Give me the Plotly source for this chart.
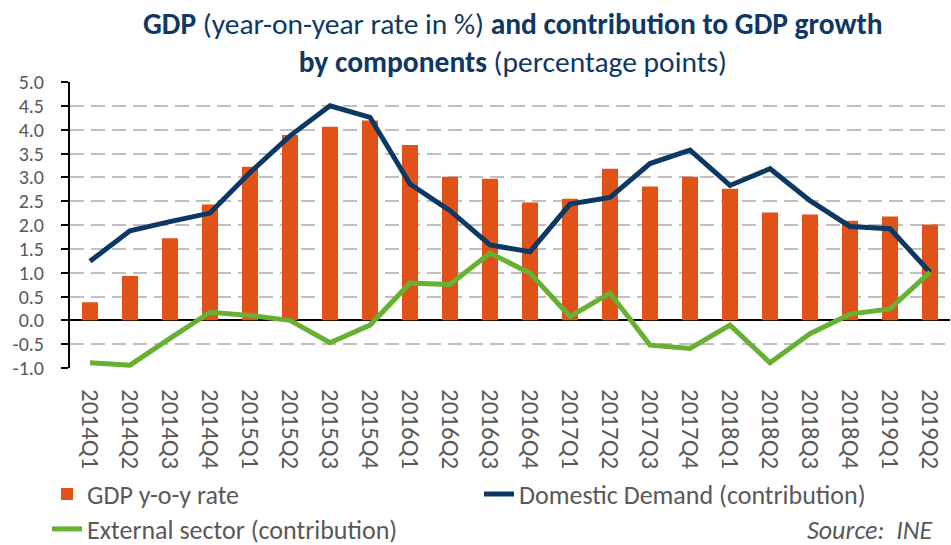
import plotly.graph_objects as go

quarters = ["2014Q1","2014Q2","2014Q3","2014Q4","2015Q1","2015Q2","2015Q3","2015Q4",
            "2016Q1","2016Q2","2016Q3","2016Q4","2017Q1","2017Q2","2017Q3","2017Q4",
            "2018Q1","2018Q2","2018Q3","2018Q4","2019Q1","2019Q2"]
gdp_yoy = [0.38,0.93,1.72,2.43,3.22,3.89,4.06,4.19,3.68,3.01,2.97,2.47,
           2.55,3.18,2.81,3.01,2.76,2.26,2.22,2.09,2.18,2.01]
domestic_demand = [1.24,1.88,2.07,2.25,3.10,3.87,4.50,4.26,2.86,2.30,1.58,1.44,
                   2.44,2.58,3.29,3.57,2.83,3.18,2.51,1.97,1.92,1.01]
external_sector = [-0.89,-0.94,-0.38,0.17,0.10,0.0,-0.47,-0.10,0.78,0.75,1.41,0.99,
                   0.08,0.57,-0.52,-0.59,-0.10,-0.89,-0.28,0.13,0.24,1.01]
y_tickvals = [-1.0,-0.5,0.0,0.5,1.0,1.5,2.0,2.5,3.0,3.5,4.0,4.5,5.0]
y_ticktext = ["-1.0","-0.5","0.0","0.5","1.0","1.5","2.0","2.5","3.0","3.5","4.0","4.5","5.0"]
boundary_ticks = list(range(len(quarters)))

FONT = "Carlito, Liberation Sans, sans-serif"
GRAY = "#595959"
NAVY = "#0C3864"
TITLE_NAVY = "#0F3864"

W, H = 951, 545
L, R, T, B = 70, 1, 82, 177
PW, PH = W - L - R, H - T - B


def px_x(x):
    return (x - L) / PW


def px_y(y):
    return (H - B - y) / PH


fig = go.Figure()
fig.add_trace(go.Bar(x=quarters, y=gdp_yoy, name="GDP y-o-y rate",
                     marker=dict(color="#E05217", line=dict(width=0)),
                     width=0.4, legend="legend"))
fig.add_trace(go.Scatter(x=quarters, y=domestic_demand, name="Domestic Demand (contribution)",
                         mode="lines", line=dict(color=NAVY, width=5), legend="legend"))
fig.add_trace(go.Scatter(x=quarters, y=external_sector, name="External sector (contribution)",
                         mode="lines", line=dict(color="#66B032", width=5), legend="legend2"))

fig.update_layout(
    width=W, height=H,
    margin=dict(l=L, r=R, t=T, b=B, autoexpand=False),
    plot_bgcolor="white", paper_bgcolor="white",
    font=dict(family=FONT, color=GRAY, size=20),
    xaxis=dict(type="category", range=[-0.5, len(quarters)-0.5], showline=False,
               showgrid=False, ticks="", tickangle=90, ticklabelstandoff=20,
               tickfont=dict(size=25, color=GRAY)),
    xaxis2=dict(overlaying="x", anchor="free", position=1/6, range=[0, len(quarters)],
                tickmode="array", tickvals=boundary_ticks, ticks="outside", ticklen=7,
                tickwidth=2, tickcolor="black", showticklabels=False, showgrid=False,
                showline=False, zeroline=False),
    yaxis=dict(range=[-1, 5], tickmode="array", tickvals=y_tickvals, ticktext=y_ticktext,
               showline=True, linecolor="black", linewidth=2, ticks="outside", ticklen=7,
               tickcolor="black", tickwidth=2, ticklabelstandoff=13,
               showgrid=True, gridcolor="#C0C0C0", gridwidth=2, griddash="14px,7px",
               zeroline=True, zerolinecolor="black", zerolinewidth=2,
               tickfont=dict(size=20, color=GRAY)),
    legend=dict(orientation="h", x=47/W, xanchor="left", y=1 - 494/H, yanchor="middle",
                xref="container", yref="container", entrywidth=387, entrywidthmode="pixels",
                font=dict(size=26, color=GRAY), bgcolor="rgba(0,0,0,0)", itemwidth=30,
                tracegroupgap=0),
    legend2=dict(orientation="h", x=47/W, xanchor="left", y=1 - 529/H, yanchor="middle",
                 xref="container", yref="container",
                 font=dict(size=26, color=GRAY), bgcolor="rgba(0,0,0,0)", itemwidth=30),
    bargap=0.6,
    showlegend=True,
    annotations=[
        dict(text="<b>GDP</b> (year-on-year rate in %) <b>and contribution to GDP growth</b><br>"
                  "<b>by components</b> (percentage points)",
             x=px_x(513), xref="paper", xanchor="center",
             y=px_y(43), yref="paper", yanchor="middle", showarrow=False,
             font=dict(family=FONT, size=29.5, color=TITLE_NAVY)),
        dict(text="<i>Source:  INE</i>", x=px_x(934), xref="paper", xanchor="right",
             y=px_y(530), yref="paper", yanchor="middle", showarrow=False,
             font=dict(family=FONT, size=26, color=GRAY)),
    ],
)

fig.write_html("out.html", config={"displayModeBar": False},
               post_script="document.body.style.margin='0';document.body.style.overflow='hidden';")
